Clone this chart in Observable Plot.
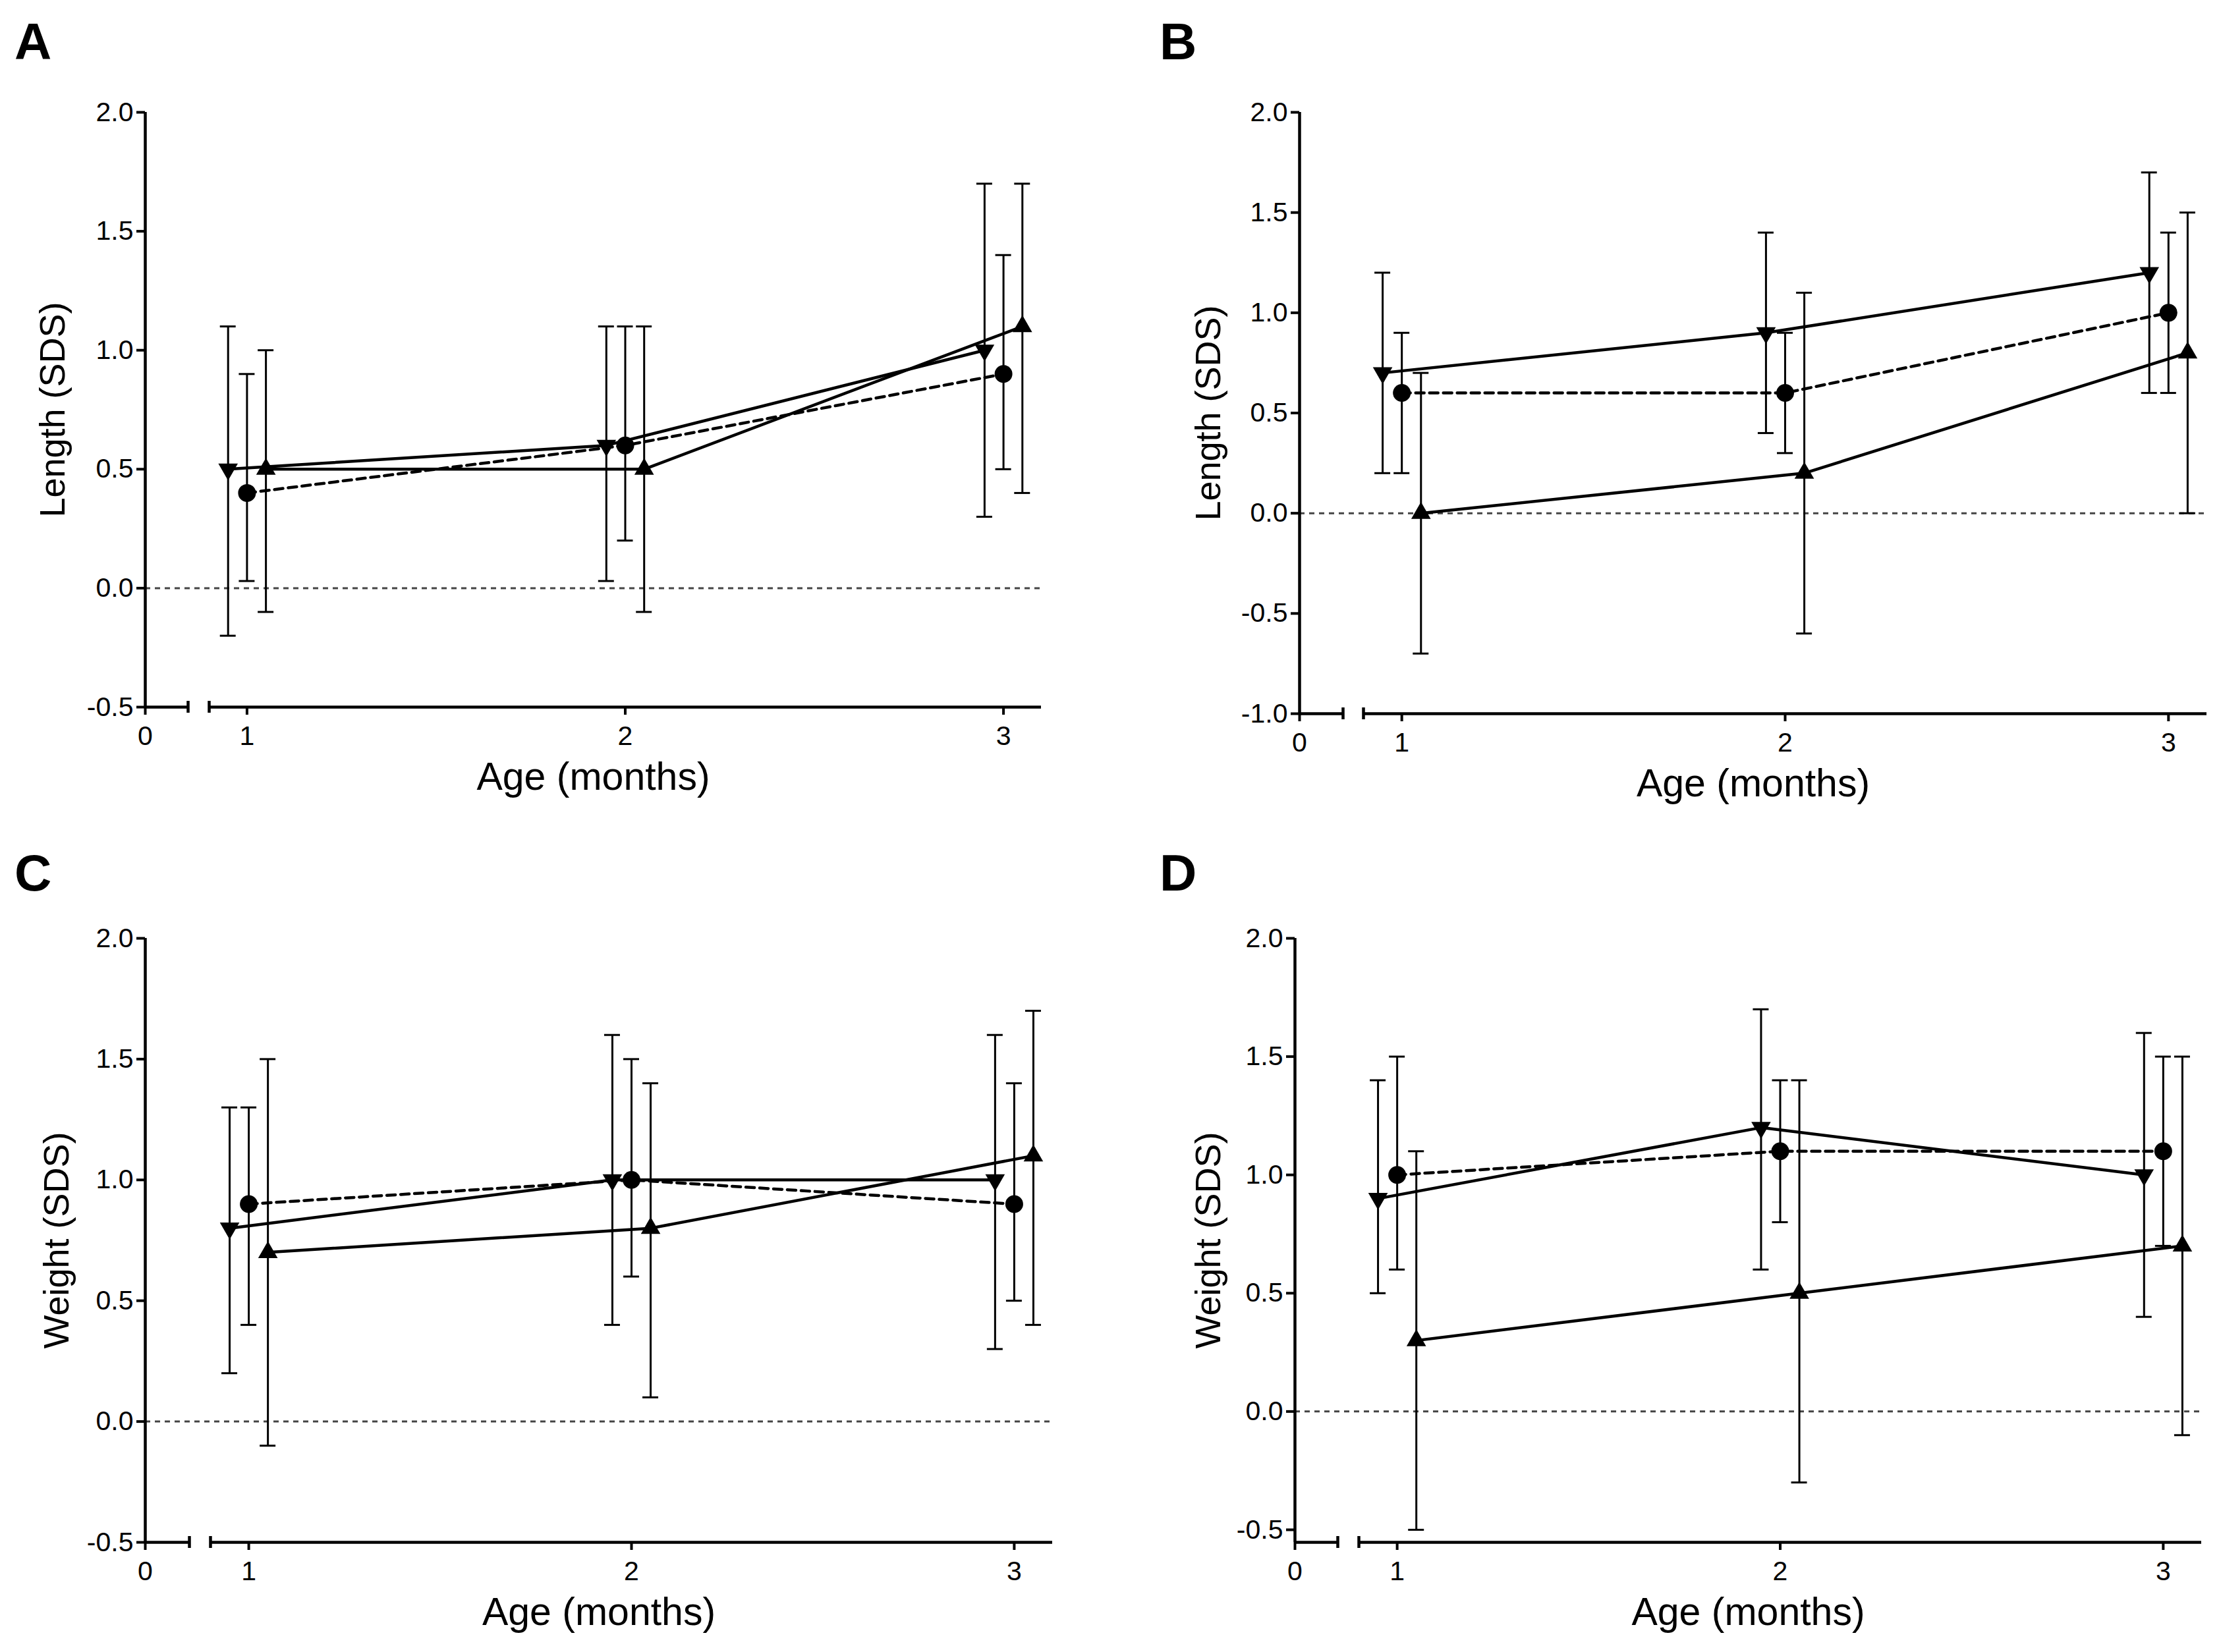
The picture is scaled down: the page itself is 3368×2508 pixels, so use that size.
<!DOCTYPE html>
<html>
<head>
<meta charset="utf-8">
<script src="https://cdn.jsdelivr.net/npm/d3@7"></script>
<script src="https://cdn.jsdelivr.net/npm/@observablehq/plot@0.6"></script>
<style>
html, body { margin: 0; padding: 0; background: #fff; }
#page { position: relative; width: 3368px; height: 2508px; background: #fff; font-family: "Liberation Sans", Arial, sans-serif; overflow: hidden; }
.panel { position: absolute; width: 1684px; height: 1254px; }
.letter { position: absolute; font-family: "Liberation Sans", Arial, sans-serif; font-weight: bold; font-size: 78px; line-height: 1; color: #000; }
</style>
</head>
<body>
<div id="page"></div>
<script>
// ---------- data ----------
const ages = [1, 2, 3];
const groups = ["down", "circle", "up"];        // marker of each group (order of rows below)
const xTicks = [0, 1, 2, 3];
const yTicksA = [-0.5, 0, 0.5, 1, 1.5, 2];
const yTicksB = [-1, -0.5, 0, 0.5, 1, 1.5, 2];
const ageLabel = "Age (months)";
const lengthLabel = "Length (SDS)";
const weightLabel = "Weight (SDS)";
const letters = ["A", "B", "C", "D"];

// Panel A (length)
const A_mean = [[0.5, 0.6, 1.0], [0.4, 0.6, 0.9], [0.5, 0.5, 1.1]];
const A_low  = [[-0.2, 0.03, 0.3], [0.03, 0.2, 0.5], [-0.1, -0.1, 0.4]];
const A_high = [[1.1, 1.1, 1.7], [0.9, 1.1, 1.4], [1.0, 1.1, 1.7]];
// Panel B (length)
const B_mean = [[0.7, 0.9, 1.2], [0.6, 0.6, 1.0], [0.0, 0.2, 0.8]];
const B_low  = [[0.2, 0.4, 0.6], [0.2, 0.3, 0.6], [-0.7, -0.6, 0.0]];
const B_high = [[1.2, 1.4, 1.7], [0.9, 0.9, 1.4], [0.7, 1.1, 1.5]];
// Panel C (weight)
const C_mean = [[0.8, 1.0, 1.0], [0.9, 1.0, 0.9], [0.7, 0.8, 1.1]];
const C_low  = [[0.2, 0.4, 0.3], [0.4, 0.6, 0.5], [-0.1, 0.1, 0.4]];
const C_high = [[1.3, 1.6, 1.6], [1.3, 1.5, 1.4], [1.5, 1.4, 1.7]];
// Panel D (weight)
const D_mean = [[0.9, 1.2, 1.0], [1.0, 1.1, 1.1], [0.3, 0.5, 0.7]];
const D_low  = [[0.5, 0.6, 0.4], [0.6, 0.8, 0.7], [-0.5, -0.3, -0.1]];
const D_high = [[1.4, 1.7, 1.6], [1.5, 1.4, 1.5], [1.1, 1.4, 1.5]];

// ---------- styling / layout ----------
const dodge = {down: -0.05, circle: 0, up: 0.05};
const sqrt3 = Math.sqrt(3);
const triangleDown = {
  draw(ctx, size) {
    const y = -Math.sqrt(size / (sqrt3 * 3));
    ctx.moveTo(0, -y * 2);
    ctx.lineTo(-sqrt3 * y, y);
    ctx.lineTo(sqrt3 * y, y);
    ctx.closePath();
  }
};
const symbolFor = {down: triangleDown, circle: "circle", up: "triangle"};
const rFor = {down: 11, circle: 13.5, up: 11};
const FONT = "'Liberation Sans', Arial, sans-serif";

const panels = [
  {letter: letters[0], left: 0, top: 0, mean: A_mean, low: A_low, high: A_high, yLabel: lengthLabel,
   yDomain: [-0.5, 2], yTicks: yTicksA, ml: 220, bEnd: 285, bStart: 317, xEnd: 1580, fTop: 170, fBottom: 1073, yDx: -140, ltrLeft: 22, ltrTop: 24},
  {letter: letters[1], left: 1684, top: 0, mean: B_mean, low: B_low, high: B_high, yLabel: lengthLabel,
   yDomain: [-1, 2], yTicks: yTicksB, ml: 288, bEnd: 354, bStart: 385, xEnd: 1665, fTop: 170, fBottom: 1083, yDx: -138, ltrLeft: 76, ltrTop: 24},
  {letter: letters[2], left: 0, top: 1254, mean: C_mean, low: C_low, high: C_high, yLabel: weightLabel,
   yDomain: [-0.5, 2], yTicks: yTicksA, ml: 220, bEnd: 287, bStart: 319, xEnd: 1597, fTop: 170, fBottom: 1087, yDx: -134, ltrLeft: 22, ltrTop: 32},
  {letter: letters[3], left: 1684, top: 1254, mean: D_mean, low: D_low, high: D_high, yLabel: weightLabel,
   yDomain: [-0.553, 2], yTicks: yTicksA, ml: 281, bEnd: 346, bStart: 378, xEnd: 1657, fTop: 170, fBottom: 1087, yDx: -131, ltrLeft: 76, ltrTop: 32}
];

const page = document.getElementById("page");

for (const cfg of panels) {
  const data = [];
  groups.forEach((g, gi) => ages.forEach((a, ai) => data.push({
    g, age: a, mean: cfg.mean[gi][ai], low: cfg.low[gi][ai], high: cfg.high[gi][ai]
  })));
  const xOf = d => d.age + dodge[d.g];
  const y0 = cfg.yDomain[0];
  const W = 1684, H = 1254;

  const chart = Plot.plot({
    width: W,
    height: H,
    marginLeft: cfg.ml,
    marginRight: W - cfg.xEnd,
    marginTop: cfg.fTop,
    marginBottom: H - cfg.fBottom,
    style: {fontFamily: FONT, background: "white", color: "black"},
    x: {type: "linear", domain: [0, 0.45, 0.9, 3.1], range: [cfg.ml, cfg.bEnd, cfg.bStart, cfg.xEnd], axis: null},
    y: {type: "linear", domain: [cfg.yDomain[0], 2], axis: null},
    marks: [
      // zero reference line
      Plot.ruleY([0], {x1: 0, x2: 3.1, stroke: "#444", strokeWidth: 3, strokeDasharray: "8,7"}),
      // error bars
      Plot.ruleX(data, {x: xOf, y1: "low", y2: "high", stroke: "black", strokeWidth: 3}),
      Plot.ruleY(data, {x1: xOf, x2: xOf, y: "low", insetLeft: -12, insetRight: -12, stroke: "black", strokeWidth: 3}),
      Plot.ruleY(data, {x1: xOf, x2: xOf, y: "high", insetLeft: -12, insetRight: -12, stroke: "black", strokeWidth: 3}),
      // series lines
      ...groups.map(g => Plot.line(data.filter(d => d.g === g), {
        x: xOf, y: "mean", stroke: "black", strokeWidth: 4.5,
        strokeDasharray: g === "circle" ? "13,8" : null
      })),
      // markers
      ...groups.map(g => Plot.dot(data.filter(d => d.g === g), {
        x: xOf, y: "mean", symbol: symbolFor[g], r: rFor[g], fill: "black", stroke: "none"
      })),
      // axis lines (broken x axis)
      Plot.ruleX([0], {y1: y0, y2: 2, stroke: "black", strokeWidth: 4.5}),
      Plot.ruleY([{a: 0, b: 0.45}, {a: 0.9, b: 3.1}], {x1: "a", x2: "b", y: y0, stroke: "black", strokeWidth: 4.5}),
      Plot.ruleX([0.45, 0.9], {y1: y0, y2: y0, insetTop: -9, insetBottom: -9, stroke: "black", strokeWidth: 4.5}),
      Plot.axisY({ticks: cfg.yTicks, tickFormat: d => d.toFixed(1), tickSize: 13, tickPadding: 5, fontSize: 41, strokeWidth: 4, label: null}),
      Plot.axisX({ticks: xTicks, tickFormat: d => String(d), tickSize: 12, tickPadding: 16, fontSize: 41, strokeWidth: 4, label: null}),
      // axis titles
      Plot.text([cfg.yLabel], {frameAnchor: "left", textAnchor: "middle", lineAnchor: "middle", rotate: -90, dx: cfg.yDx, fontSize: 54, fill: "black"}),
      Plot.text([ageLabel], {frameAnchor: "bottom", textAnchor: "middle", lineAnchor: "middle", dy: 107, fontSize: 59, fill: "black"})
    ]
  });

  const div = document.createElement("div");
  div.className = "panel";
  div.style.left = cfg.left + "px";
  div.style.top = cfg.top + "px";
  div.appendChild(chart);
  page.appendChild(div);

  const lt = document.createElement("div");
  lt.className = "letter";
  lt.textContent = cfg.letter;
  lt.style.left = (cfg.left + cfg.ltrLeft) + "px";
  lt.style.top = (cfg.top + cfg.ltrTop) + "px";
  page.appendChild(lt);
}
</script>
</body>
</html>
